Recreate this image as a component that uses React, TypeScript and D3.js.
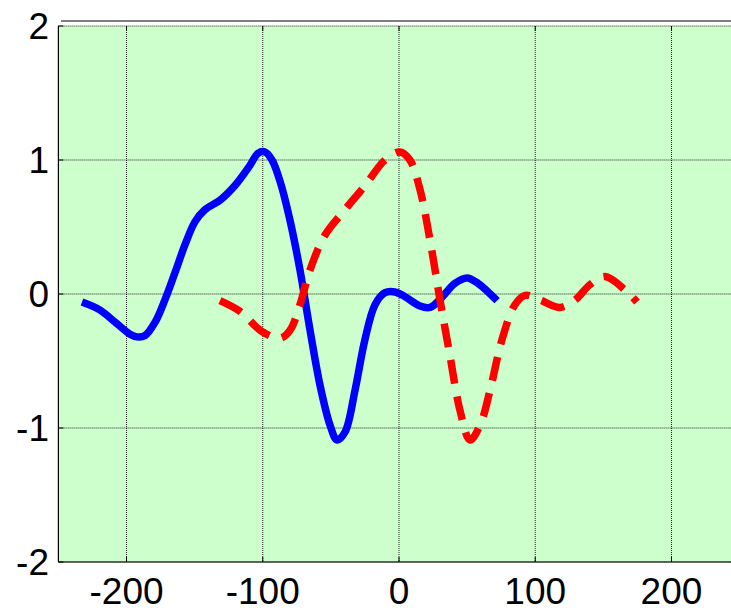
import React from "react";
import * as d3 from "d3";

const xTicks = [-200, -100, 0, 100, 200];
const yTicks = [-2, -1, 0, 1, 2];

const blueX = [-232.7, -219.4, -208.4, -197.4, -192.3, -186.4, -179, -171.7, -164.4, -157, -149.7, -142.4, -131.4, -120.4, -109.4, -103.5, -98.4, -93.2, -87.3, -80, -72.7, -65.3, -58, -50.6, -45.5, -39.6, -32.3, -25, -17.6, -10.3, -2.9, 4.4, 15.4, 22.8, 30.1, 41.1, 49.9, 58, 72];
const blueY = [-0.06, -0.12, -0.21, -0.3, -0.32, -0.31, -0.21, -0.04, 0.16, 0.37, 0.54, 0.63, 0.7, 0.81, 0.96, 1.05, 1.06, 1.0, 0.84, 0.55, 0.18, -0.27, -0.68, -0.98, -1.09, -1.03, -0.72, -0.34, -0.08, 0.01, 0.015, -0.02, -0.09, -0.1, -0.04, 0.08, 0.12, 0.08, -0.05];

const redX = [-131.4, -116.7, -100.6, -87.3, -80, -72.7, -65.3, -54.3, -39.6, -24.9, -10.3, 0.7, 8, 15.4, 22.8, 30.1, 37.4, 44.8, 52.1, 59.5, 66.8, 75.6, 85.1, 92.5, 103.5, 118.2, 129.2, 140.2, 151.2, 165.9, 174.7];
const redY = [-0.05, -0.13, -0.28, -0.33, -0.27, -0.08, 0.18, 0.44, 0.63, 0.81, 1.0, 1.06, 1.0, 0.78, 0.4, -0.045, -0.46, -0.87, -1.09, -0.98, -0.72, -0.34, -0.08, -0.01, -0.045, -0.1, -0.045, 0.07, 0.13, 0.03, -0.06];

export default function App() {
  const x = d3.scaleLinear().domain([-250, 250]).range([58.4, 739.6]);
  const y = d3.scaleLinear().domain([-2, 2]).range([562, 26]);
  const left = 58.4, right = 739.6, top = 26, bottom = 562;

  const line = d3
    .line<[number, number]>()
    .x((d) => x(d[0]))
    .y((d) => y(d[1]))
    .curve(d3.curveCatmullRom.alpha(0.5));

  const blue = blueX.map((v, i) => [v, blueY[i]] as [number, number]);
  const red = redX.map((v, i) => [v, redY[i]] as [number, number]);

  const font = "'Liberation Sans', Arial, sans-serif";

  return (
    <svg
      width={731}
      height={611}
      style={{ position: "absolute", left: 0, top: 0, background: "#fff" }}
    >
      <rect x={left} y={top} width={right - left} height={bottom - top} fill="#ccffcc" />
      {xTicks.map((t) => (
        <line key={"gx" + t} x1={x(t)} x2={x(t)} y1={top} y2={bottom} stroke="#222" strokeWidth={1} strokeDasharray="1 1" />
      ))}
      {yTicks.map((t) => (
        <line key={"gy" + t} x1={left} x2={right} y1={y(t)} y2={y(t)} stroke="#222" strokeWidth={1} strokeDasharray="1 1" />
      ))}
      <line x1={left} x2={left} y1={top} y2={bottom} stroke="#000" strokeWidth={1.2} />
      <line x1={left} x2={right} y1={bottom} y2={bottom} stroke="#000" strokeWidth={1.2} />
      <line x1={61} x2={731} y1={21} y2={21} stroke="#000" strokeWidth={1.2} />
      {xTicks.map((t) => (
        <g key={"tx" + t}>
          <line x1={x(t)} x2={x(t)} y1={bottom} y2={bottom - 5} stroke="#000" />
          <line x1={x(t)} x2={x(t)} y1={top} y2={top + 5} stroke="#000" />
        </g>
      ))}
      {yTicks.map((t) => (
        <line key={"ty" + t} x1={left} x2={left + 5} y1={y(t)} y2={y(t)} stroke="#000" />
      ))}
      <path d={line(blue) || ""} fill="none" stroke="#0000ff" strokeWidth={7.5} strokeLinejoin="round" />
      <path d={line(red) || ""} fill="none" stroke="#ff0000" strokeWidth={7.5} strokeDasharray="24 13" />
      {xTicks.map((t) => (
        <text key={"lx" + t} x={x(t)} y={604} textAnchor="middle" fontFamily={font} fontSize={37} fill="#000">
          {t}
        </text>
      ))}
      {yTicks.map((t) => (
        <text key={"ly" + t} x={49} y={y(t) + 13} textAnchor="end" fontFamily={font} fontSize={37} fill="#000">
          {t}
        </text>
      ))}
    </svg>
  );
}
